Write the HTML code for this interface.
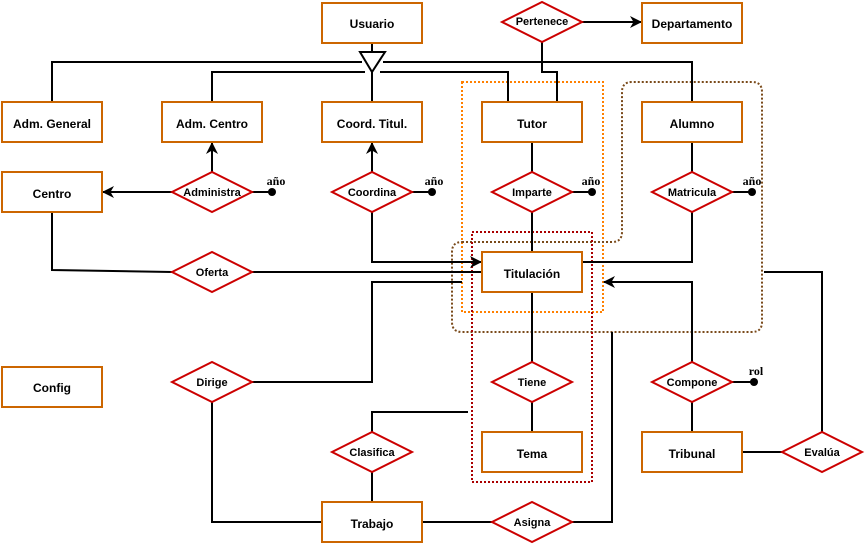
<!DOCTYPE html>
<html><head><meta charset="utf-8"><style>
body{margin:0;background:#fff}
svg{display:block}
.e{fill:#fff;stroke:#cc6600;stroke-width:2}
.d{fill:#fff;stroke:#cc0000;stroke-width:2}
.l{fill:none;stroke:#000;stroke-width:2}
text{font-family:"Liberation Sans",sans-serif;font-size:12px;font-weight:bold;text-anchor:middle;dominant-baseline:central}
.s{font-size:11px}
.a{font-family:"Liberation Serif",serif;font-size:12px}
</style></head><body>
<svg width="868" height="549" viewBox="0 0 868 549">
<defs><marker id="ar" markerWidth="12" markerHeight="12" refX="11" refY="6" orient="auto" markerUnits="userSpaceOnUse"><path d="M0,0 L12,6 L0,12 L3.5,6 Z" fill="#000"/></marker></defs>
<rect x="462" y="82" width="141" height="230" fill="none" stroke="#ff8000" stroke-width="2" stroke-dasharray="2,2"/>
<path d="M462,242 L612,242 Q622,242 622,232 L622,92 Q622,82 632,82 L752,82 Q762,82 762,92 L762,322 Q762,332 752,332 L462,332 Q452,332 452,322 L452,252 Q452,242 462,242 Z" fill="none" stroke="#7a4a1a" stroke-width="2" stroke-dasharray="2,2"/>
<rect x="472" y="232" width="120" height="250" fill="none" stroke="#aa0000" stroke-width="2" stroke-dasharray="2,2"/>
<path class="l" d="M372,43 V52"/>
<path class="l" d="M52,102 V62 H362 M383,62 H692 V102"/>
<path class="l" d="M212,102 V72 H365 M380,72 H508 V102"/>
<path class="l" d="M372,72 V102"/>
<path class="l" d="M542,42 V72 H557 V102"/>
<path class="l" d="M582,22 H641" marker-end="url(#ar)"/>
<path class="l" d="M212,172 V143" marker-end="url(#ar)"/>
<path class="l" d="M172,192 H103" marker-end="url(#ar)"/>
<path class="l" d="M252,192 H272"/>
<path class="l" d="M372,172 V143" marker-end="url(#ar)"/>
<path class="l" d="M412,192 H432"/>
<path class="l" d="M372,212 V262 H481" marker-end="url(#ar)"/>
<path class="l" d="M532,142 V252 M572,192 H592"/>
<path class="l" d="M692,142 V172 M732,192 H752 M692,212 V262 H582"/>
<path class="l" d="M52,212 V270 L172,272 M252,272 H482"/>
<path class="l" d="M252,382 H372 V282 H462"/>
<path class="l" d="M212,402 V522 H322"/>
<path class="l" d="M532,292 V432"/>
<path class="l" d="M692,362 V282 H604" marker-end="url(#ar)"/>
<path class="l" d="M732,382 H754 M692,402 V432"/>
<path class="l" d="M742,452 H782 M822,432 V272 H764"/>
<path class="l" d="M372,432 V412 H468 M372,472 V502"/>
<path class="l" d="M422,522 H492 M572,522 H612 V332"/>
<path d="M360,52 H385 L372,72 Z" fill="#fff" stroke="#000" stroke-width="2"/>
<circle cx="272" cy="192" r="4"/><circle cx="432" cy="192" r="4"/><circle cx="592" cy="192" r="4"/><circle cx="752" cy="192" r="4"/><circle cx="754" cy="382" r="4"/>
<text class="a" x="276" y="181">año</text><text class="a" x="434" y="181">año</text><text class="a" x="591" y="181">año</text><text class="a" x="752" y="181">año</text><text class="a" x="756" y="371">rol</text>
<g>
<rect class="e" x="322" y="3" width="100" height="40"/><text x="372" y="24">Usuario</text>
<rect class="e" x="642" y="3" width="100" height="40"/><text x="692" y="24">Departamento</text>
<rect class="e" x="2" y="102" width="100" height="40"/><text x="52" y="124">Adm. General</text>
<rect class="e" x="162" y="102" width="100" height="40"/><text x="212" y="124">Adm. Centro</text>
<rect class="e" x="322" y="102" width="100" height="40"/><text x="372" y="124">Coord. Titul.</text>
<rect class="e" x="482" y="102" width="100" height="40"/><text x="532" y="124">Tutor</text>
<rect class="e" x="642" y="102" width="100" height="40"/><text x="692" y="124">Alumno</text>
<rect class="e" x="2" y="172" width="100" height="40"/><text x="52" y="194">Centro</text>
<rect class="e" x="482" y="252" width="100" height="40"/><text x="532" y="274">Titulación</text>
<rect class="e" x="2" y="367" width="100" height="40"/><text x="52" y="388">Config</text>
<rect class="e" x="482" y="432" width="100" height="40"/><text x="532" y="454">Tema</text>
<rect class="e" x="642" y="432" width="100" height="40"/><text x="692" y="454">Tribunal</text>
<rect class="e" x="322" y="502" width="100" height="40"/><text x="372" y="524">Trabajo</text>
</g>
<g>
<path class="d" d="M502,22 L542,2 L582,22 L542,42 Z"/><text class="s" x="542" y="22">Pertenece</text>
<path class="d" d="M172,192 L212,172 L252,192 L212,212 Z"/><text class="s" x="212" y="193">Administra</text>
<path class="d" d="M332,192 L372,172 L412,192 L372,212 Z"/><text class="s" x="372" y="193">Coordina</text>
<path class="d" d="M492,192 L532,172 L572,192 L532,212 Z"/><text class="s" x="532" y="193">Imparte</text>
<path class="d" d="M652,192 L692,172 L732,192 L692,212 Z"/><text class="s" x="692" y="193">Matricula</text>
<path class="d" d="M172,272 L212,252 L252,272 L212,292 Z"/><text class="s" x="212" y="273">Oferta</text>
<path class="d" d="M172,382 L212,362 L252,382 L212,402 Z"/><text class="s" x="212" y="383">Dirige</text>
<path class="d" d="M492,382 L532,362 L572,382 L532,402 Z"/><text class="s" x="532" y="383">Tiene</text>
<path class="d" d="M652,382 L692,362 L732,382 L692,402 Z"/><text class="s" x="692" y="383">Compone</text>
<path class="d" d="M332,452 L372,432 L412,452 L372,472 Z"/><text class="s" x="372" y="453">Clasifica</text>
<path class="d" d="M782,452 L822,432 L862,452 L822,472 Z"/><text class="s" x="822" y="453">Evalúa</text>
<path class="d" d="M492,522 L532,502 L572,522 L532,542 Z"/><text class="s" x="532" y="523">Asigna</text>
</g>
</svg>
</body></html>
